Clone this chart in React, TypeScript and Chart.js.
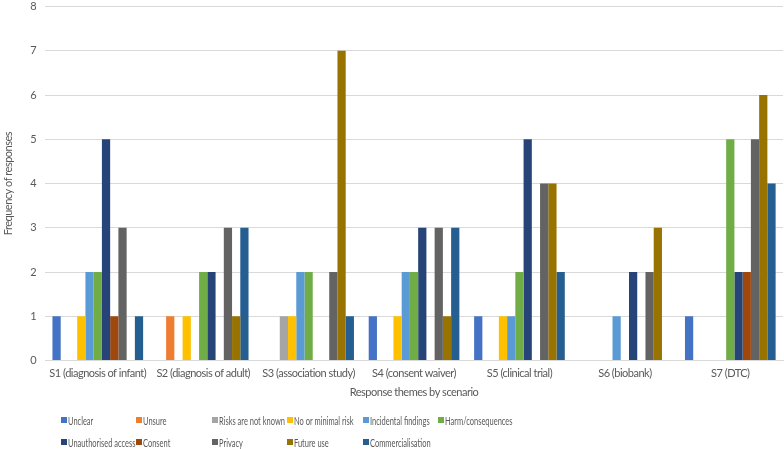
import React, { useEffect, useRef } from "react";
import { Chart, registerables } from "chart.js";

Chart.register(...registerables);

const categories = [
  "S1 (diagnosis of infant)",
  "S2 (diagnosis of adult)",
  "S3 (association study)",
  "S4 (consent waiver)",
  "S5 (clinical trial)",
  "S6 (biobank)",
  "S7 (DTC)",
];

const seriesNames = [
  "Unclear",
  "Unsure",
  "Risks are not known",
  "No or minimal risk",
  "Incidental findings",
  "Harm/consequences",
  "Unauthorised access",
  "Consent",
  "Privacy",
  "Future use",
  "Commercialisation",
];

const unclear = [1, 0, 0, 1, 1, 0, 1];
const unsure = [0, 1, 0, 0, 0, 0, 0];
const risksNotKnown = [0, 0, 1, 0, 0, 0, 0];
const noMinimalRisk = [1, 1, 1, 1, 1, 0, 0];
const incidentalFindings = [2, 0, 2, 2, 1, 1, 0];
const harmConsequences = [2, 2, 2, 2, 2, 0, 5];
const unauthorisedAccess = [5, 2, 0, 3, 5, 2, 2];
const consent = [1, 0, 0, 0, 0, 0, 2];
const privacy = [3, 3, 2, 3, 4, 2, 5];
const futureUse = [0, 1, 7, 1, 4, 3, 6];
const commercialisation = [1, 3, 1, 3, 2, 0, 4];

const seriesValues = [
  unclear,
  unsure,
  risksNotKnown,
  noMinimalRisk,
  incidentalFindings,
  harmConsequences,
  unauthorisedAccess,
  consent,
  privacy,
  futureUse,
  commercialisation,
];

const colors = [
  "#4472C4",
  "#ED7D31",
  "#A5A5A5",
  "#FFC000",
  "#5B9BD5",
  "#70AD47",
  "#264478",
  "#9E480E",
  "#636363",
  "#997300",
  "#255E91",
];

const yTicks = [0, 1, 2, 3, 4, 5, 6, 7, 8];

const FONT = "Lato, 'Open Sans', sans-serif";
const TEXT = "#595959";

const tightText = {
  id: "tightText",
  beforeUpdate(chart: any) {
    chart.ctx.letterSpacing = "-0.5px";
  },
  beforeLayout(chart: any) {
    chart.ctx.letterSpacing = "-0.5px";
  },
  beforeDraw(chart: any) {
    chart.ctx.letterSpacing = "-0.5px";
  },
};

export default function App() {
  const ref = useRef<HTMLCanvasElement | null>(null);

  useEffect(() => {
    document.body.style.margin = "0";
    if (!ref.current) return;
    const chart = new Chart(ref.current, {
      type: "bar",
      plugins: [tightText],
      data: {
        labels: categories,
        datasets: seriesNames.map((name, i) => ({
          label: name,
          data: seriesValues[i],
          backgroundColor: colors[i],
          borderWidth: 0,
          categoryPercentage: 0.86,
          barPercentage: 1.0,
        })),
      },
      options: {
        animation: false,
        responsive: false,
        maintainAspectRatio: false,
        layout: { padding: { left: 2, right: 1, top: 0, bottom: 50 } },
        plugins: {
          legend: { display: false },
          tooltip: { enabled: false },
        },
        scales: {
          x: {
            grid: { display: false, drawTicks: false },
            border: { display: true, color: "#d9d9d9" },
            ticks: { color: TEXT, font: { family: FONT, size: 11 }, maxRotation: 0, autoSkip: false, padding: 6 },
            title: {
              display: true,
              text: "Response themes by scenario",
              color: TEXT,
              font: { family: FONT, size: 11 },
              padding: { top: 0, bottom: 0 },
            },
          },
          y: {
            min: 0,
            max: 8,
            afterBuildTicks: (axis: any) => {
              axis.ticks = yTicks.map((v) => ({ value: v }));
            },
            grid: { color: "#d9d9d9", drawTicks: false },
            border: { display: false },
            ticks: { color: TEXT, font: { family: FONT, size: 11 }, padding: 9 },
            title: {
              display: true,
              text: "Frequency of responses",
              color: TEXT,
              font: { family: FONT, size: 11 },
              padding: { top: 0, bottom: 6 },
            },
          },
        },
      },
    });
    return () => chart.destroy();
  }, []);

  return (
    <div style={{ position: "fixed", left: 0, top: 0, width: 784, height: 449, background: "#fff", overflow: "hidden" }}>
      <canvas ref={ref} width={784} height={458} style={{ display: "block", position: "absolute", left: 0, top: -9 }} />
      {seriesNames.map((name, i) => {
        const col = i < 6 ? i : i - 6;
        const row = i < 6 ? 0 : 1;
        return (
          <div
            key={name}
            style={{
              position: "absolute",
              left: 61 + col * 75.4,
              top: 413 + row * 22,
              height: 14,
              display: "flex",
              alignItems: "center",
              whiteSpace: "nowrap",
              fontFamily: FONT,
              fontSize: 11,
              color: TEXT,
            }}
          >
            <span style={{ width: 6, height: 6, background: colors[i], marginRight: 1, display: "inline-block", flex: "none" }} />
            <span style={{ display: "inline-block", transform: "scaleX(0.68)", transformOrigin: "0 50%" }}>{name}</span>
          </div>
        );
      })}
    </div>
  );
}
